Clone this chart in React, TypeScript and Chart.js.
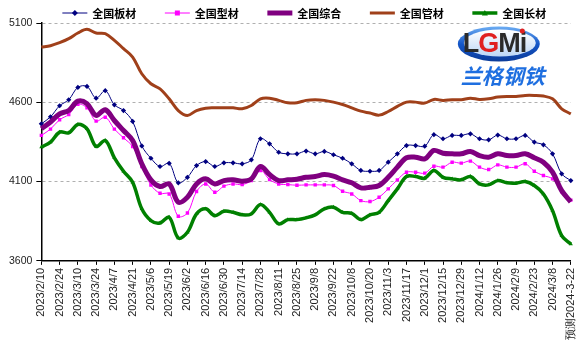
import React, { useEffect, useRef } from 'react';
import { Chart, registerables } from 'chart.js';

Chart.register(...registerables);

const categories = [
  '2023/2/10', '2023/2/17', '2023/2/24', '2023/3/3', '2023/3/10', '2023/3/17', '2023/3/24', '2023/3/31',
  '2023/4/7', '2023/4/14', '2023/4/21', '2023/4/28', '2023/5/6', '2023/5/12', '2023/5/19', '2023/5/26',
  '2023/6/2', '2023/6/9', '2023/6/16', '2023/6/23', '2023/6/30', '2023/7/7', '2023/7/14', '2023/7/21',
  '2023/7/28', '2023/8/4', '2023/8/11', '2023/8/18', '2023/8/25', '2023/9/1', '2023/9/8', '2023/9/15',
  '2023/9/22', '2023/9/28', '2023/10/8', '2023/10/13', '2023/10/20', '2023/10/27', '2023/11/3', '2023/11/10',
  '2023/11/17', '2023/11/24', '2023/12/1', '2023/12/8', '2023/12/15', '2023/12/22', '2023/12/29', '2024/1/5',
  '2024/1/12', '2024/1/19', '2024/1/26', '2024/2/2', '2024/2/9', '2024/2/16', '2024/2/23', '2024/3/1',
  '2024/3/8', '2024/3/15', '预测2024-3-22',
];

const seriesNames = ['全国板材', '全国型材', '全国综合', '全国管材', '全国长材'];

const plate = [
  4464, 4508, 4578, 4616, 4694, 4700, 4626, 4673, 4584, 4548,
  4479, 4325, 4247, 4195, 4215, 4092, 4127, 4201, 4226, 4195,
  4218, 4218, 4212, 4237, 4370, 4338, 4285, 4275, 4275, 4292,
  4275, 4290, 4269, 4247, 4212, 4170, 4165, 4170, 4222, 4275,
  4327, 4327, 4323, 4396, 4370, 4391, 4391, 4401, 4370, 4363,
  4393, 4370, 4370, 4391, 4349, 4332, 4275, 4149, 4106,
];

const section = [
  4391, 4431, 4490, 4523, 4588, 4565, 4481, 4506, 4431, 4376,
  4321, 4195, 4078, 4026, 4022, 3881, 3902, 4037, 4085, 4033,
  4071, 4085, 4081, 4106, 4170, 4113, 4085, 4081, 4077, 4079,
  4079, 4079, 4075, 4039, 4022, 3980, 3974, 4001, 4054, 4111,
  4159, 4159, 4153, 4197, 4191, 4222, 4216, 4229, 4191, 4176,
  4205, 4191, 4191, 4212, 4165, 4138, 4117, 4035, 3983,
];

const composite = [
  4433, 4475, 4527, 4548, 4607, 4591, 4517, 4553, 4485, 4422,
  4359, 4212, 4111, 4069, 4085, 3970, 4001, 4085, 4117, 4085,
  4106, 4111, 4102, 4117, 4195, 4144, 4106, 4111, 4115, 4127,
  4132, 4144, 4134, 4111, 4092, 4060, 4064, 4075, 4127, 4191,
  4250, 4254, 4243, 4296, 4279, 4275, 4275, 4290, 4264, 4254,
  4275, 4264, 4264, 4275, 4250, 4222, 4159, 4043, 3972,
];

const pipe = [
  4948, 4957, 4976, 5001, 5037, 5060, 5037, 5033, 4991, 4938,
  4885, 4780, 4717, 4685, 4622, 4548, 4517, 4548, 4563, 4565,
  4565, 4565, 4559, 4580, 4622, 4626, 4612, 4597, 4597, 4612,
  4616, 4612, 4601, 4586, 4565, 4544, 4532, 4519, 4542, 4574,
  4601, 4601, 4595, 4618, 4612, 4616, 4616, 4626, 4618, 4622,
  4633, 4637, 4637, 4643, 4643, 4639, 4622, 4559, 4527,
];

const longSteel = [
  4317, 4349, 4412, 4407, 4460, 4433, 4321, 4359, 4250, 4165,
  4096, 3928, 3854, 3839, 3875, 3744, 3780, 3896, 3928, 3885,
  3913, 3906, 3890, 3896, 3955, 3906, 3833, 3860, 3860, 3871,
  3890, 3928, 3938, 3906, 3900, 3860, 3890, 3906, 3980, 4054,
  4132, 4132, 4121, 4170, 4127, 4117, 4111, 4132, 4085, 4079,
  4106, 4092, 4090, 4100, 4075, 4022, 3917, 3759, 3706,
];

const yMin = 3600;
const yMax = 5100;
const yStep = 500;

type Style = { color: string; width: number; marker: string | false; r: number };
const styles: Style[] = [
  { color: '#000080', width: 1, marker: 'rectRot', r: 2.6 },
  { color: '#FF00FF', width: 1, marker: 'rect', r: 2.4 },
  { color: '#800080', width: 5, marker: false, r: 0 },
  { color: '#A0401A', width: 3, marker: false, r: 0 },
  { color: '#008000', width: 3.5, marker: 'triangle', r: 2.4 },
];

function drawSwatch(ctx: CanvasRenderingContext2D, s: Style, x: number, y: number) {
  ctx.save();
  ctx.strokeStyle = s.color;
  ctx.fillStyle = s.color;
  ctx.lineWidth = s.width;
  ctx.beginPath();
  ctx.moveTo(x, y);
  ctx.lineTo(x + 25, y);
  ctx.stroke();
  const m = x + 12.5;
  if (s.marker === 'rectRot') {
    ctx.beginPath();
    ctx.moveTo(m, y - 3);
    ctx.lineTo(m + 3, y);
    ctx.lineTo(m, y + 3);
    ctx.lineTo(m - 3, y);
    ctx.closePath();
    ctx.fill();
  } else if (s.marker === 'rect') {
    ctx.fillRect(m - 2.5, y - 2.5, 5, 5);
  } else if (s.marker === 'triangle') {
    ctx.beginPath();
    ctx.moveTo(m, y - 3);
    ctx.lineTo(m + 3, y + 2.5);
    ctx.lineTo(m - 3, y + 2.5);
    ctx.closePath();
    ctx.fill();
  }
  ctx.restore();
}

const legendPlugin = {
  id: 'customLegend',
  afterDraw(chart: any) {
    const { ctx, chartArea } = chart;
    ctx.save();
    ctx.font = 'bold 11px "Noto Sans CJK SC", sans-serif';
    ctx.fillStyle = '#000';
    ctx.textBaseline = 'middle';
    ctx.textAlign = 'left';
    const y = 13;
    let x = chartArea.left + 21;
    seriesNames.forEach((name, i) => {
      drawSwatch(ctx, styles[i], x, y);
      ctx.fillText(name, x + 30, y + 0.5);
      x += 102.5;
    });
    ctx.restore();
  },
};

const logoPlugin = {
  id: 'logo',
  afterDraw(chart: any) {
    const { ctx, chartArea } = chart;
    const cx = chartArea.right - 72;
    const cy = chartArea.top + 21;
    ctx.save();
    const g = ctx.createLinearGradient(cx, cy - 18, cx, cy + 18);
    g.addColorStop(0, '#6fb0f5');
    g.addColorStop(0.5, '#1456c8');
    g.addColorStop(1, '#0a3a98');
    ctx.fillStyle = g;
    ctx.beginPath();
    ctx.ellipse(cx, cy, 41, 17.5, 0, 0, Math.PI * 2);
    ctx.fill();
    const g2 = ctx.createLinearGradient(cx, cy - 14, cx, cy + 14);
    g2.addColorStop(0, '#ffffff');
    g2.addColorStop(1, '#b8d4f6');
    ctx.fillStyle = g2;
    ctx.beginPath();
    ctx.ellipse(cx + 1, cy - 1, 36, 13.5, 0, 0, Math.PI * 2);
    ctx.fill();
    ctx.font = 'bold 27px "Liberation Sans", Arial, sans-serif';
    ctx.textBaseline = 'middle';
    ctx.textAlign = 'left';
    const letters: [string, string][] = [['L', '#2a2a2a'], ['G', '#e02020'], ['M', '#2a2a2a'], ['i', '#2a2a2a']];
    let x = cx - 36;
    for (const [ch, col] of letters) {
      ctx.fillStyle = col;
      ctx.fillText(ch, x, cy + 1);
      x += ctx.measureText(ch).width - 1;
    }
    ctx.fillStyle = '#e02020';
    ctx.beginPath();
    ctx.arc(x - 4, cy - 13, 2.5, 0, Math.PI * 2);
    ctx.fill();
    ctx.font = 'italic bold 21px "Noto Sans CJK SC", sans-serif';
    ctx.fillStyle = '#1f6fe0';
    ctx.textAlign = 'center';
    ctx.fillText('兰格钢铁', cx + 4, cy + 32);
    ctx.restore();
  },
};

export default function App() {
  const ref = useRef<HTMLCanvasElement | null>(null);
  useEffect(() => {
    document.body.style.margin = '0';
    const all = [plate, section, composite, pipe, longSteel];
    const datasets = all.map((data, i) => {
      const s = styles[i];
      return {
        label: seriesNames[i],
        data,
        borderColor: s.color,
        backgroundColor: s.color,
        borderWidth: s.width,
        pointStyle: s.marker || 'circle',
        pointRadius: s.marker ? s.r : 0,
        pointBorderWidth: 0,
        pointBackgroundColor: s.color,
        tension: 0.35,
        fill: false,
        order: 4 - i,
      };
    });
    const chart = new Chart(ref.current!, {
      type: 'line',
      data: { labels: categories, datasets },
      plugins: [legendPlugin, logoPlugin],
      options: {
        animation: false,
        responsive: false,
        layout: { padding: { left: 5, right: 9, top: 23, bottom: 18 } },
        plugins: {
          tooltip: { enabled: false },
          legend: { display: false },
        },
        scales: {
          x: {
            type: 'category',
            offset: false,
            grid: {
              drawOnChartArea: false,
              drawTicks: true,
              tickLength: 4,
              tickColor: '#000',
              color: '#000',
            },
            border: { display: true, color: '#000', width: 1.5 },
            ticks: {
              autoSkip: false,
              maxRotation: 90,
              minRotation: 90,
              padding: 3,
              color: '#222',
              font: { family: '"Liberation Sans", Arial, sans-serif', size: 11 },
              callback: (_v: any, index: number) => (index % 2 === 0 ? categories[index] : null),
            },
          },
          y: {
            min: yMin,
            max: yMax,
            grid: {
              color: '#b0b0b0',
              lineWidth: 1,
              drawTicks: true,
              tickLength: 5,
              tickColor: '#000',
            },
            border: { display: true, color: '#000', width: 1.5, dash: [3, 3] },
            ticks: {
              stepSize: yStep,
              padding: 4,
              color: '#222',
              font: { family: '"Liberation Sans", Arial, sans-serif', size: 10.5 },
              callback: (v: any) => String(v),
            },
          },
        },
      },
    } as any);
    return () => chart.destroy();
  }, []);
  return (
    <div style={{ width: 587, height: 361 }}>
      <canvas ref={ref} width={587} height={361} style={{ display: 'block' }} />
    </div>
  );
}
